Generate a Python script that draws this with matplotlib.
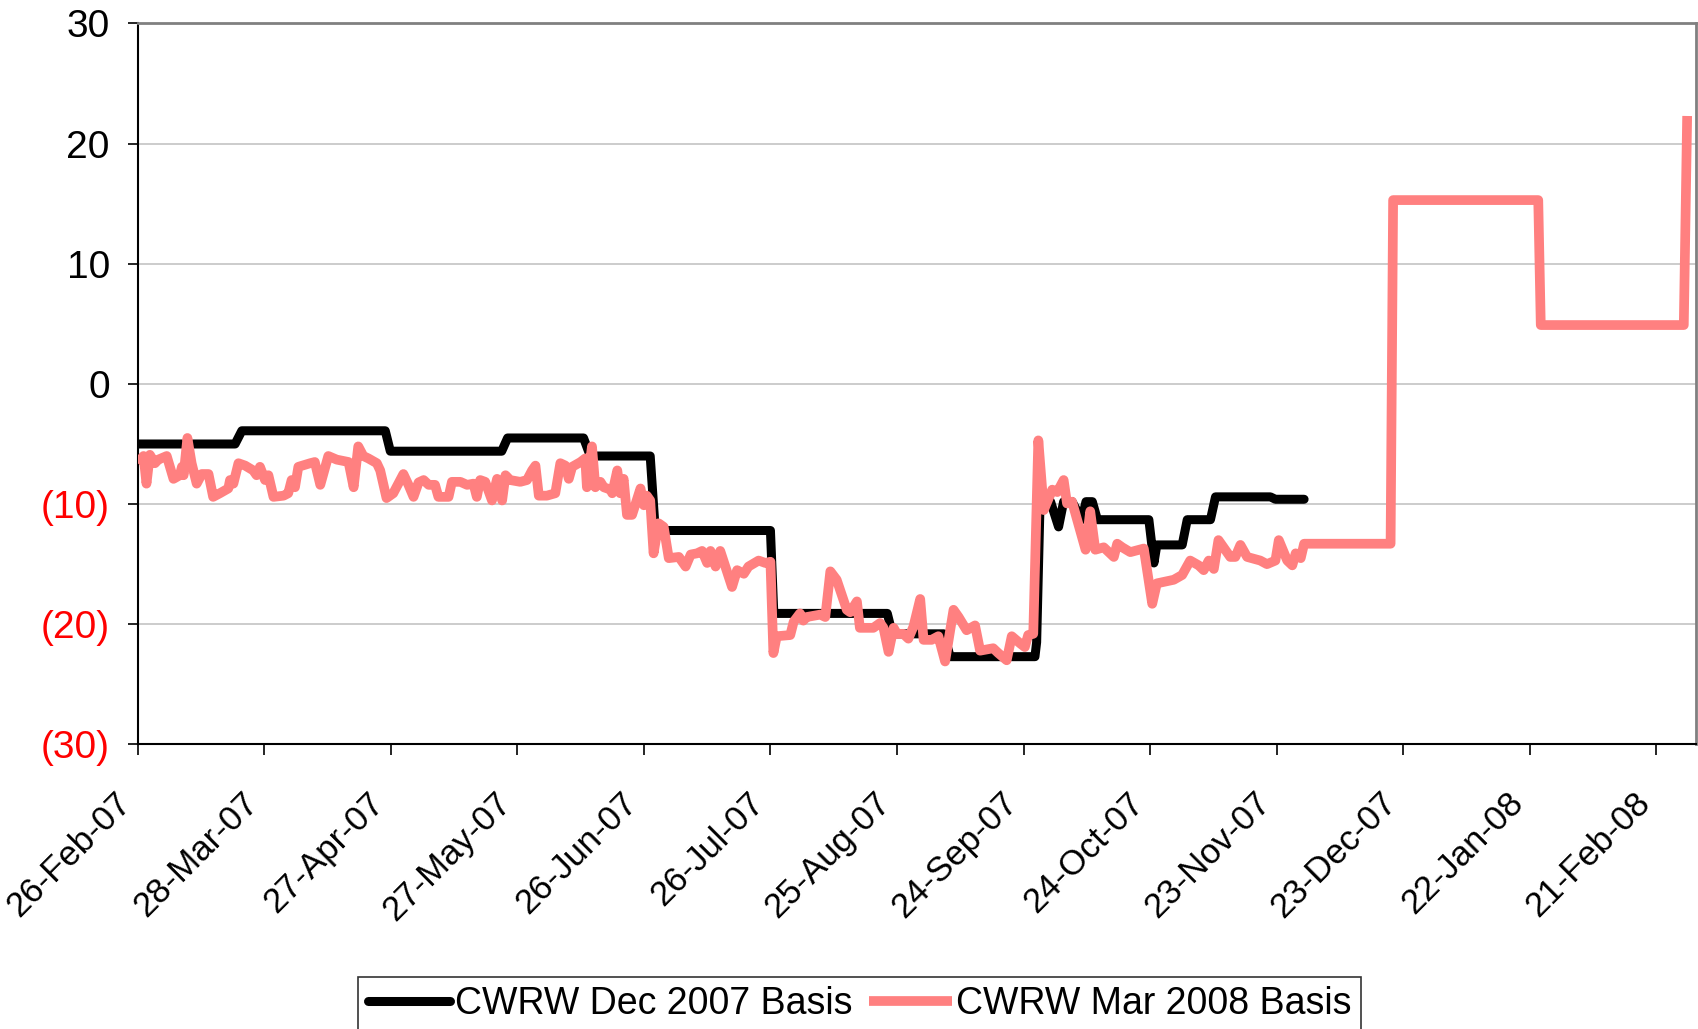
import matplotlib.pyplot as plt
import numpy as np

plt.rcParams['font.family'] = ['Liberation Sans', 'DejaVu Sans']

# x values are days after 26-Feb-07
dec_days = [0, 23.1, 24.7, 58.7, 59.9, 86.3, 87.7, 105.7, 107.3, 121.5, 122.7,
            150.0, 150.8, 177.7, 178.9, 191.1, 192.6, 212.7, 213.1, 213.9, 216.4,
            218.3, 219.5, 221.5, 223.8, 224.8, 226.3, 227.5, 239.7, 240.9, 241.6,
            247.6, 248.8, 254.3, 255.5, 268.5, 269.7, 276.5]
dec_basis = [-5.0, -5.0, -3.9, -3.9, -5.6, -5.6, -4.5, -4.5, -6.0, -6.0, -12.2,
             -12.2, -19.1, -19.1, -20.8, -20.8, -22.7, -22.7, -21.5, -10.0, -9.8,
             -11.9, -9.8, -9.8, -11.3, -9.8, -9.8, -11.3, -11.3, -14.9, -13.4,
             -13.4, -11.3, -11.3, -9.4, -9.4, -9.6, -9.6]

mar_days = [0, 1.4, 2.1, 2.9, 4.1, 4.9, 6.9, 8.5, 10.0, 10.5, 10.9, 11.8, 12.8,
            14.0, 15.2, 16.8, 17.9, 19.5, 21.5, 21.9, 22.7, 23.9, 25.5, 27.4,
            28.2, 29.0, 30.2, 31.0, 32.2, 34.6, 35.7, 36.5, 37.3, 38.1, 40.9,
            42.0, 43.3, 45.2, 47.2, 50.0, 51.2, 52.3, 53.5, 54.7, 56.7, 57.5,
            59.0, 60.6, 63.0, 64.2, 65.4, 66.6, 67.8, 69.0, 70.5, 71.3, 73.7,
            74.5, 76.5, 78.1, 79.6, 80.4, 81.2, 82.4, 84.0, 85.2, 86.4, 87.2,
            88.3, 90.7, 92.3, 93.5, 94.3, 95.1, 97.0, 99.0, 100.2, 101.4, 102.2,
            103.0, 105.0, 106.1, 106.5, 107.7, 108.5, 109.7, 110.5, 112.1, 112.5,
            113.7, 114.4, 115.2, 116.0, 117.2, 119.2, 120.0, 120.7, 121.5, 122.3,
            123.5, 124.7, 125.9, 128.3, 129.9, 131.1, 132.6, 133.8, 135.0, 135.8,
            137.0, 138.1, 140.9, 142.1, 143.7, 144.8, 147.2, 148.8, 150.0, 150.7,
            151.5, 154.7, 155.5, 157.0, 157.8, 158.6, 161.8, 163.0, 164.2, 165.7,
            168.1, 168.9, 170.5, 171.2, 174.4, 176.0, 176.8, 178.0, 179.2, 180.0,
            181.5, 182.7, 183.9, 185.5, 186.3, 188.2, 189.8, 191.4, 193.4, 194.6,
            196.5, 198.5, 199.7, 202.8, 204.0, 206.0, 207.2, 209.2, 210.3, 211.1,
            212.3, 213.5, 214.8, 216.8, 218.0, 219.5, 220.3, 221.5, 224.7, 225.8,
            227.0, 229.0, 231.4, 232.2, 233.4, 235.3, 238.5, 240.5, 241.6, 245.6,
            247.6, 249.5, 251.5, 252.7, 253.9, 255.1, 256.2, 259.0, 260.2, 261.4,
            263.0, 266.1, 267.7, 269.7, 270.5, 272.5, 273.7, 274.5, 275.7, 276.5,
            297.0, 297.6, 332.0, 332.6, 366.5, 367.3]
mar_basis = [-6.6, -6.0, -8.3, -5.9, -6.6, -6.3, -6.0, -7.9, -7.6, -6.9, -7.6, -4.5, -6.6,
             -8.3, -7.5, -7.5, -9.4, -9.1, -8.7, -8.0, -8.3, -6.6, -6.8, -7.2,
             -7.6, -6.9, -8.0, -7.6, -9.4, -9.3, -9.1, -8.0, -8.6, -6.9, -6.6,
             -6.5, -8.4, -6.0, -6.3, -6.5, -8.6, -5.2, -6.0, -6.2, -6.6, -7.2,
             -9.5, -9.1, -7.5, -8.4, -9.4, -8.2, -8.0, -8.4, -8.4, -9.4, -9.4,
             -8.15, -8.15, -8.4, -8.3, -9.4, -8.0, -8.15, -9.7, -7.9, -9.7, -7.6,
             -8.0, -8.15, -8.0, -7.2, -6.8, -9.3, -9.3, -9.1, -6.6, -6.8, -7.9,
             -6.9, -6.5, -6.2, -8.6, -5.2, -8.6, -8.15, -8.6, -8.8, -9.1,
             -7.2, -9.1, -7.9, -10.9, -10.9, -8.7, -10.1, -9.3, -9.7, -14.1,
             -11.6, -11.9, -14.5, -14.4, -15.2, -14.2, -14.1, -13.9, -14.9, -13.9,
             -15.2, -13.9, -16.9, -15.5, -15.8, -15.2, -14.7, -14.9, -14.8, -22.4,
             -21.0, -20.9, -19.8, -19.1, -19.7, -19.4, -19.2, -19.4, -15.6, -16.3,
             -18.8, -19.0, -18.1, -20.3, -20.3, -19.9, -20.3, -22.3, -20.3, -20.8,
             -20.8, -21.2, -20.2, -17.9, -21.3, -21.3, -21.0, -23.1, -18.8, -19.4,
             -20.5, -20.1, -22.2, -22.0, -22.4, -23.0, -21.0, -21.6, -21.9, -20.9,
             -20.8, -4.7, -10.5, -8.8, -9.0, -8.0, -9.95, -9.8, -13.8, -10.6,
             -13.8, -13.6, -14.4, -13.3, -13.6, -14.0, -13.7, -18.3, -16.6, -16.3,
             -15.9, -14.7, -15.1, -15.5, -14.7, -15.4, -13.0, -14.4, -14.4, -13.4,
             -14.4, -14.7, -15.0, -14.7, -13.0, -14.7, -15.1, -14.1, -14.5, -13.3,
             -13.3, 15.3, 15.3, 4.9, 4.9, 22.3]

tick_days = [0, 30, 60, 90, 120, 150, 180, 210, 240, 270, 300, 330, 360]
tick_labels = ['26-Feb-07', '28-Mar-07', '27-Apr-07', '27-May-07', '26-Jun-07',
               '26-Jul-07', '25-Aug-07', '24-Sep-07', '24-Oct-07', '23-Nov-07',
               '23-Dec-07', '22-Jan-08', '21-Feb-08']
y_ticks = [-30, -20, -10, 0, 10, 20, 30]


fig = plt.figure(figsize=(16.99, 10.29), dpi=100)
ax = fig.add_axes([0.081, 0.2766, 0.917, 0.7006])

ax.plot(dec_days, dec_basis, color='black', lw=6.5, solid_joinstyle='round',
        solid_capstyle='round', label='CWRW Dec 2007 Basis', zorder=3)
ax.plot(mar_days, mar_basis, color='#FF8080', lw=7, solid_joinstyle='round',
        solid_capstyle='butt', label='CWRW Mar 2008 Basis', zorder=4)

ax.set_xlim(0, 369.3)
ax.set_ylim(-30, 30)
ax.set_xticks(tick_days)
ax.set_xticklabels(tick_labels, rotation=45, ha='right')
ax.set_yticks(y_ticks)
ax.set_yticklabels([f'({-v})' if v < 0 else str(v) for v in y_ticks])
for lab, v in zip(ax.get_yticklabels(), y_ticks):
    if v < 0:
        lab.set_color('red')

ax.tick_params(axis='y', direction='out', length=7, width=1.2, pad=13, labelsize=28)
ax.tick_params(axis='x', direction='out', length=8, width=1.2, pad=22, labelsize=25)

ax.yaxis.grid(True, color='#C8C8C8', lw=1.3)
ax.set_axisbelow(True)
for side in ['left', 'bottom']:
    ax.spines[side].set_color('black')
    ax.spines[side].set_linewidth(1.5)
for side in ['top', 'right']:
    ax.spines[side].set_color('#808080')
    ax.spines[side].set_linewidth(2)

leg = fig.legend(loc='upper center', bbox_to_anchor=(0.506, 0.0505), ncol=2,
                 fontsize=27, frameon=True, fancybox=False, edgecolor='black',
                 handlelength=2.2, handletextpad=0.12, columnspacing=0.45,
                 borderpad=0.25, borderaxespad=0)
leg.get_frame().set_linewidth(1.2)

fig.savefig('out.png', dpi=100)
